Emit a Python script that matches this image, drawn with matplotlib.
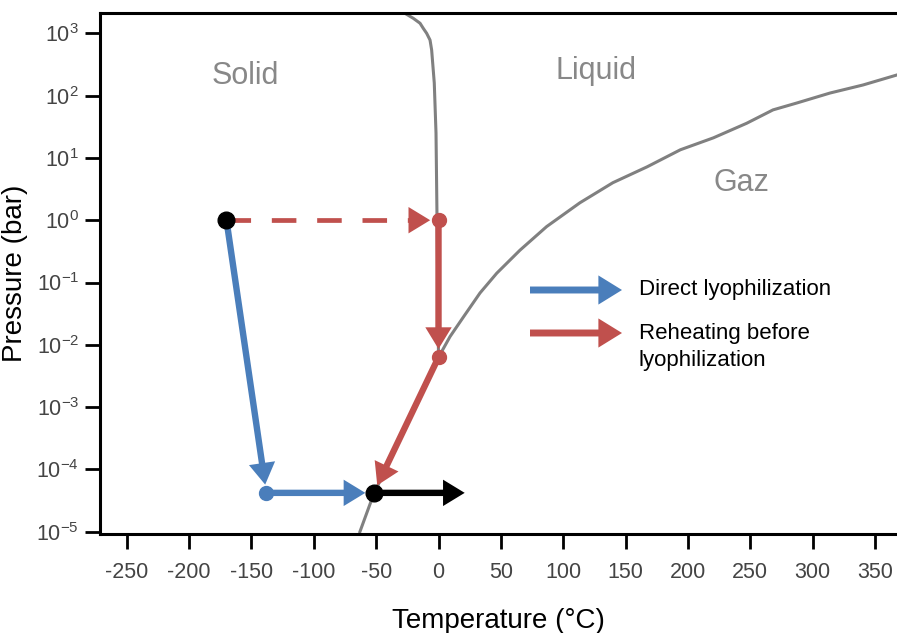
import matplotlib
matplotlib.use('Agg')
import matplotlib.pyplot as plt

plt.rcParams['font.family'] = ['Liberation Sans', 'DejaVu Sans']
plt.rcParams['mathtext.fontset'] = 'custom'
plt.rcParams['mathtext.rm'] = 'Liberation Sans'

# phase boundaries (temperature in C, pressure in bar)
sub_T = [-63, -52, -31, -15, 0]
sub_P = [1.0e-5, 4.0e-5, 3.0e-4, 1.55e-3, 6.3e-3]

melt_T = [0, -1.2, -2.0, -3.4, -5.5, -6.8, -9.5, -12.2, -14.8, -20.2, -27]
melt_P = [6.3e-3, 1.1, 25, 160, 540, 780, 1000, 1200, 1450, 1740, 2100]

vap_T = [0, 9.2, 20, 33.3, 46.7, 65.3, 86.7, 113.3, 139.8, 167.3, 193.9,
         220.4, 247.1, 268.2, 287.2, 313.9, 340.3, 367.4]
vap_P = [6.3e-3, 1.35e-2, 2.8e-2, 6.8e-2, 0.141, 0.33, 0.79, 1.9, 4.0, 7.2, 13.5,
         21, 36, 59, 76, 110, 148, 214]

# process states
start = (-170, 1.0)
cold = (-138, 4.2e-5)
warm = (0, 1.0)
triple = (0, 6.3e-3)
end = (-52, 4.2e-5)
out_T = 21
head_T = -24   # where the dashed shaft stops and the head begins

phase_labels = ['Solid', 'Liquid', 'Gaz']
phase_T = [-155, 126, 243]
phase_P = [210, 250, 3.9]

x_ticks = [-250, -200, -150, -100, -50, 0, 50, 100, 150, 200, 250, 300, 350]
y_exps = [-5, -4, -3, -2, -1, 0, 1, 2, 3]

blue = '#4a7ebb'
red = '#c0504d'
grey = '#808080'

fig = plt.figure(figsize=(8.97, 6.33), dpi=100)
ax = fig.add_axes([100 / 897, 1 - 534 / 633, 797 / 897, 521 / 633])
ax.set_yscale('log')
ax.set_xlim(-271.4, 367.6)
ax.set_ylim(10 ** -5.037, 10 ** 3.326)

# phase diagram curves
for t, p in [(sub_T, sub_P), (melt_T, melt_P), (vap_T, vap_P)]:
    ax.plot(t, p, color=grey, lw=2.2, zorder=1, solid_joinstyle='round')

for lab, t, p in zip(phase_labels, phase_T, phase_P):
    ax.text(t, p, lab, color='#888888', fontsize=22, ha='center', va='center')

STYLE = 'simple,head_length=0.78,head_width=0.95,tail_width=0.23'


def arrow(a, b, color, shrink=6, xyc='data', style=STYLE, ms=20):
    ax.annotate('', xy=b, xytext=a, xycoords=xyc,
                arrowprops=dict(arrowstyle=style, mutation_scale=ms,
                                color=color, lw=0, shrinkA=0, shrinkB=shrink),
                zorder=3)


arrow(start, cold, blue)
arrow(cold, end, blue)
# dashed shaft + solid head
ax.plot([start[0], head_T], [start[1], start[1]], color=red, lw=3.4,
        dashes=(5.2, 4.4), dash_capstyle='butt', zorder=3)
arrow((head_T, warm[1]), warm, red)
arrow(warm, triple, red)
arrow(triple, end, red)
arrow(end, (out_T, end[1]), 'black', shrink=0)

ax.plot(*cold, 'o', color=blue, ms=10, zorder=4)
ax.plot(*warm, 'o', color=red, ms=10, zorder=4)
ax.plot(*triple, 'o', color=red, ms=10, zorder=4)
ax.plot(*start, 'o', color='black', ms=12, zorder=5)
ax.plot(*end, 'o', color='black', ms=12, zorder=5)

# legend drawn by hand
leg_labels = ['Direct lyophilization', 'Reheating before\nlyophilization']
leg_colors = [blue, red]
leg_arrow_y = [290, 333]
leg_text_y = [290, 347]
for lab, col, ya, yt in zip(leg_labels, leg_colors, leg_arrow_y, leg_text_y):
    yf = (534 - ya) / 521
    arrow(((530 - 100) / 797, yf), ((622 - 100) / 797, yf), col, shrink=0,
          xyc='axes fraction',
          style='simple,head_length=0.85,head_width=1.05,tail_width=0.25', ms=20)
    ax.text((639 - 100) / 797, (534 - yt) / 521, lab, transform=ax.transAxes,
            fontsize=16, va='center', linespacing=1.4)

ax.set_xticks(x_ticks)
ax.set_xticklabels([str(t) for t in x_ticks])
ax.set_yticks([10.0 ** e for e in y_exps])
ax.set_yticklabels([r'$\mathregular{10^{%d}}$' % e for e in y_exps])
ax.minorticks_off()
ax.tick_params(axis='both', direction='out', length=11, width=2, colors='black',
               labelcolor='#444444', labelsize=15.5)
ax.tick_params(axis='x', pad=9)
ax.tick_params(axis='y', pad=4)

for s in ['left', 'bottom', 'top']:
    ax.spines[s].set_linewidth(2.2)
ax.spines['right'].set_visible(False)

ax.set_xlabel('Temperature (°C)', fontsize=20, labelpad=18)
ax.set_ylabel('Pressure (bar)', fontsize=20, labelpad=6)

fig.savefig('out.png', dpi=100)
